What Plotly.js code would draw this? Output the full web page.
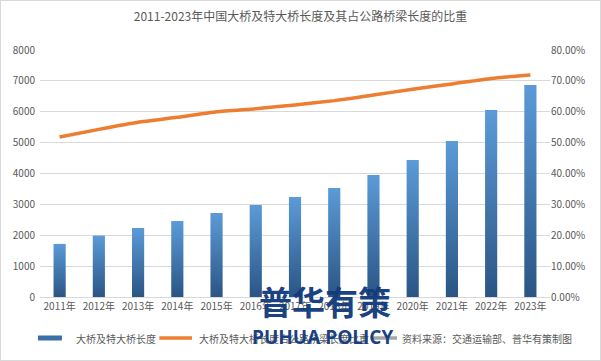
<!DOCTYPE html>
<html>
<head>
<meta charset="utf-8">
<script src="https://cdn.plot.ly/plotly-3.0.1.min.js"></script>
<style>
html,body{margin:0;padding:0;background:#fff;}
#chart{width:601px;height:361px;box-sizing:border-box;border:1px solid #d9d9d9;}
</style>
</head>
<body>
<div id="chart"></div>
<script>
const years = ["2011年","2012年","2013年","2014年","2015年","2016年","2017年","2018年","2019年","2020年","2021年","2022年","2023年"];
const bridgeLength = [1720, 1990, 2235, 2460, 2720, 2980, 3240, 3530, 3950, 4440, 5050, 6060, 6870];
const shareRatio = [0.518, 0.543, 0.566, 0.582, 0.600, 0.610, 0.622, 0.636, 0.654, 0.673, 0.690, 0.708, 0.719];
const seriesNames = ["大桥及特大桥长度", "大桥及特大桥长度占公路桥梁长度比重", "资料来源：交通运输部、普华有策制图"];
const seriesColors = ["#3a6fa8", "#ed7d31", "#a5a5a5"];
const titleText = "2011-2023年中国大桥及特大桥长度及其占公路桥梁长度的比重";

const FONT = "Noto Sans CJK SC, Microsoft YaHei, sans-serif";
const TXT = "#595959";

const traces = [
  {
    type: "bar", x: years, y: bridgeLength, name: seriesNames[0],
    marker: {color: "#3f7dbf"}, yaxis: "y", showlegend: false
  },
  {
    type: "scatter", mode: "lines", x: years, y: shareRatio, name: seriesNames[1],
    line: {color: seriesColors[1], width: 3.5, shape: "spline", smoothing: 0.5}, yaxis: "y2", showlegend: false
  }
];

// manual legend (swatch shapes + labels)
const legendY = -0.166;
const legendItems = [
  {x0: -0.004, x1: 0.043, tx: 0.066},
  {x0: 0.234, x1: 0.298, tx: 0.307},
  {x0: 0.648, x1: 0.700, tx: 0.705}
];
const shapes = legendItems.map(function(it, i){
  return {type: "line", xref: "paper", yref: "paper", x0: it.x0, x1: it.x1, y0: legendY, y1: legendY,
          line: {color: seriesColors[i], width: i === 0 ? 5 : 3.5}};
});
const annotations = legendItems.map(function(it, i){
  return {text: seriesNames[i], xref: "paper", yref: "paper", x: it.tx, y: legendY, xanchor: "left", yanchor: "middle",
          showarrow: false, font: {family: FONT, size: 10, color: TXT}};
});
annotations.push(
  {text: "<b>普华有策</b>", xref: "paper", yref: "paper", x: 0.559, y: -0.016, xanchor: "center", yanchor: "middle",
   showarrow: false, font: {family: FONT, size: 33, color: "rgba(20,60,125,0.97)"}},
  {text: "<b>PUHUA POLICY</b>", xref: "paper", yref: "paper", x: 0.553, y: -0.16, xanchor: "center", yanchor: "middle",
   showarrow: false, font: {family: "Open Sans, Liberation Sans, sans-serif", size: 19, color: "rgba(20,60,125,0.97)"}}
);

const layout = {
  width: 599, height: 359,
  margin: {l: 39, r: 50, t: 49, b: 63, autoexpand: false},
  paper_bgcolor: "#ffffff", plot_bgcolor: "#ffffff",
  font: {family: FONT, size: 10, color: TXT},
  title: {text: titleText, font: {family: FONT, size: 12, color: TXT}, x: 0.5, xanchor: "center", y: 0.955, yanchor: "middle"},
  bargap: 0.69,
  showlegend: false,
  xaxis: {type: "category", showgrid: false, showline: true, linecolor: "#d9d9d9", linewidth: 1,
          ticks: "", tickfont: {family: FONT, size: 10, color: TXT}, zeroline: false},
  yaxis: {range: [0, 8000], dtick: 1000, showgrid: true, gridcolor: "#d9d9d9", gridwidth: 1,
          zeroline: false, showline: false, ticks: "", tickfont: {family: FONT, size: 10, color: TXT},
          ticklabelstandoff: 4},
  yaxis2: {range: [0, 0.8], dtick: 0.1, tickformat: ".2%", overlaying: "y", side: "right",
           showgrid: false, zeroline: false, showline: false, ticks: "",
           tickfont: {family: FONT, size: 10, color: TXT}},
  shapes: shapes,
  annotations: annotations
};

Plotly.newPlot("chart", traces, layout, {displayModeBar: false, staticPlot: true}).then(function(gd){
  const svg = gd.querySelector("svg.main-svg");
  const ns = "http://www.w3.org/2000/svg";
  let defs = svg.querySelector("defs");
  if (!defs) { defs = document.createElementNS(ns, "defs"); svg.insertBefore(defs, svg.firstChild); }
  const g = document.createElementNS(ns, "linearGradient");
  g.setAttribute("id", "barGrad");
  g.setAttribute("x1", "0"); g.setAttribute("y1", "0"); g.setAttribute("x2", "0"); g.setAttribute("y2", "1");
  const s1 = document.createElementNS(ns, "stop"); s1.setAttribute("offset", "0"); s1.setAttribute("stop-color", "#5b9bd8");
  const s2 = document.createElementNS(ns, "stop"); s2.setAttribute("offset", "1"); s2.setAttribute("stop-color", "#2a5584");
  g.appendChild(s1); g.appendChild(s2); defs.appendChild(g);
  gd.querySelectorAll(".barlayer .point path").forEach(function(p){ p.style.fill = "url(#barGrad)"; });
});
</script>
</body>
</html>
